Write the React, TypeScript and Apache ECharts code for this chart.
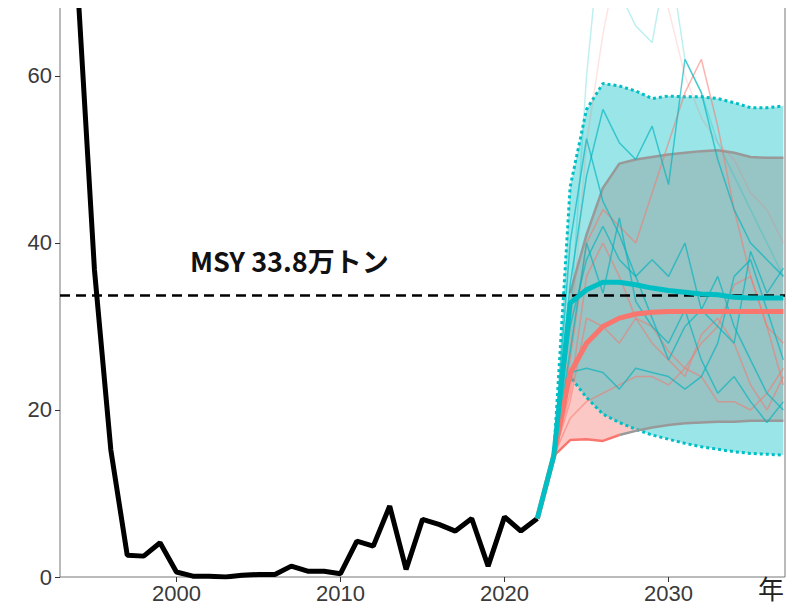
import { useEffect, useRef } from 'react';
import * as echarts from 'echarts';

const histYears = [1994, 1995, 1996, 1997, 1998, 1999, 2000, 2001, 2002, 2003, 2004, 2005, 2006, 2007, 2008, 2009, 2010, 2011, 2012, 2013, 2014, 2015, 2016, 2017, 2018, 2019, 2020, 2021, 2022];
const histValues = [70, 36.8, 15.2, 2.6, 2.5, 4.1, 0.6, 0.1, 0.1, 0.0, 0.2, 0.3, 0.3, 1.3, 0.7, 0.7, 0.4, 4.3, 3.7, 8.5, 0.9, 6.9, 6.3, 5.5, 7.0, 1.3, 7.2, 5.5, 7.0];

const projYears = [2022, 2023, 2024, 2025, 2026, 2027, 2028, 2029, 2030, 2031, 2032, 2033, 2034, 2035, 2036, 2037];
const tealMedian = [7.0, 14.5, 32.8, 34.4, 35.3, 35.3, 35.0, 34.6, 34.3, 34.1, 33.9, 33.8, 33.5, 33.4, 33.4, 33.4];
const redMedian = [7.0, 14.5, 24.4, 28.0, 30.0, 31.0, 31.5, 31.7, 31.8, 31.8, 31.8, 31.8, 31.8, 31.8, 31.8, 31.8];
const tealUpper = [7.0, 14.5, 46.7, 56.0, 59.1, 58.8, 58.2, 57.3, 57.6, 57.5, 57.5, 57.3, 56.8, 56.2, 56.2, 56.4];
const tealLower = [7.0, 14.5, 24.0, 21.5, 19.5, 18.5, 17.7, 17.0, 16.5, 16.0, 15.6, 15.3, 15.0, 14.8, 14.7, 14.6];
const redUpper = [7.0, 14.5, 34.0, 41.0, 46.6, 49.5, 50.0, 50.3, 50.6, 50.8, 51.0, 51.1, 50.8, 50.3, 50.2, 50.2];
const redLower = [7.0, 14.5, 16.4, 16.5, 16.3, 17.0, 17.5, 17.9, 18.2, 18.4, 18.5, 18.6, 18.6, 18.7, 18.7, 18.7];

const tealRuns = [
  [14.5, 40, 52.5, 45, 41, 36, 31, 26, 30, 32, 36, 30, 26, 22, 20],
  [14.5, 24.5, 25, 24.5, 22.5, 25, 24.5, 24, 22.5, 24, 28, 36, 38, 32, 26],
  [14.5, 27, 40, 34, 43, 33, 30, 28, 32, 26, 22, 24, 21, 18.5, 21],
  [14.5, 30, 38, 42, 38, 36, 38, 36, 40, 32, 30, 28, 39, 34, 37],
  [14.5, 35, 48, 56, 52, 50, 54, 47, 62, 58, 50, 44, 40, 38, 36],
];
const redRuns = [
  [14.5, 19, 21, 22, 23, 24, 24, 23, 25, 24, 21, 21, 20, 22, 25],
  [14.5, 21, 31, 30, 28, 31, 30, 27, 25, 28, 30, 35, 36, 30, 23],
  [14.5, 22, 36, 40, 36, 31, 28, 26, 24, 29, 31, 28, 23, 20, 24],
  [14.5, 26, 40, 44, 42, 40, 46, 52, 58, 62, 54, 44, 36, 30, 28],
];
const fadedRuns = [
  { color: 'rgba(0,191,196,0.25)', data: [14.5, 30, 60, 80, 70, 66, 64, 75, 62, 58, 52, 48, 44, 40, 36] },
  { color: 'rgba(248,118,109,0.2)', data: [14.5, 28, 52, 65, 75, 70, 72, 68, 60, 55, 52, 50, 46, 44, 40] },
];

const msy = 33.8;

export default function App() {
  const ref = useRef<HTMLDivElement>(null);
  useEffect(() => {
    if (!ref.current) return;
    const chart = echarts.init(ref.current, undefined, { renderer: 'svg' });
    const pts = (ys: number[], vals: number[]) => ys.map((y, i) => [y, vals[i]]);
    const band = (lower: number[], upper: number[], color: string, z: number) => ({
      type: 'custom',
      data: projYears.map((y, i) => [y, lower[i], upper[i]]),
      clip: true,
      z,
      renderItem: (params: any, api: any) => {
        if (params.dataIndex !== 0) return null;
        const top = projYears.map((y, i) => api.coord([y, upper[i]]));
        const bot = projYears.map((y, i) => api.coord([y, lower[i]])).reverse();
        return { type: 'polygon', shape: { points: [...top, ...bot] }, style: { fill: color } };
      },
    });
    const runYears = projYears.slice(1);
    const ticksX = [2000, 2010, 2020, 2030];
    const ticksY = [0, 20, 40, 60];
    chart.setOption({
      animation: false,
      grid: { left: 60, right: 13, top: 5, bottom: 35, show: true, borderColor: '#777', borderWidth: 1, backgroundColor: 'transparent' },
      xAxis: {
        type: 'value', min: 1992.9, max: 2037.1,
        splitLine: { show: false },
        axisLine: { show: false },
        axisTick: { show: true, customValues: ticksX, length: 5, lineStyle: { color: '#333' } },
        axisLabel: { customValues: ticksX, formatter: (v: number) => String(v), fontSize: 22, color: '#3a3a3a', fontFamily: 'Liberation Sans', margin: 5 },
      },
      yAxis: {
        type: 'value', min: 0, max: 68.5,
        splitLine: { show: false },
        axisLine: { show: false },
        axisTick: { show: true, customValues: ticksY, length: 5, lineStyle: { color: '#333' } },
        axisLabel: { customValues: ticksY, fontSize: 22, color: '#3a3a3a', fontFamily: 'Liberation Sans', margin: 8 },
      },
      graphic: [
        { type: 'text', left: 190, top: 247, style: { text: 'MSY 33.8万トン', fontSize: 27, fontWeight: 'bold', fill: '#111', fontFamily: 'Noto Sans CJK JP' } },
        { type: 'text', left: 758, top: 574, style: { text: '年', fontSize: 26, fill: '#222', fontFamily: 'Noto Sans CJK JP' } },
      ],
      series: [
        band(redLower, redUpper, 'rgba(248,118,109,0.4)', 1),
        band(tealLower, tealUpper, 'rgba(0,191,196,0.4)', 1),
        { type: 'line', data: pts(projYears.slice(1), tealUpper.slice(1)), symbol: 'none', lineStyle: { color: '#00BFC4', width: 3, type: [3, 3] }, z: 2 },
        { type: 'line', data: pts(projYears.slice(1), tealLower.slice(1)), symbol: 'none', lineStyle: { color: '#00BFC4', width: 3, type: [3, 3] }, z: 2 },
        { type: 'line', data: pts(projYears.slice(2), redUpper.slice(2)), symbol: 'none', lineStyle: { color: '#999', width: 2.5 }, z: 2 },
        { type: 'line', data: pts(projYears.slice(5), redLower.slice(5)), symbol: 'none', lineStyle: { color: '#999', width: 2.5 }, z: 2 },
        { type: 'line', data: pts(projYears.slice(1, 6), redLower.slice(1, 6)), symbol: 'none', lineStyle: { color: '#F8766D', width: 2.5 }, z: 2 },
        ...fadedRuns.map((r) => ({ type: 'line', data: pts(runYears, r.data), symbol: 'none', lineStyle: { color: r.color, width: 1.5 }, z: 3 })),
        ...redRuns.map((r) => ({ type: 'line', data: pts(runYears, r), symbol: 'none', lineStyle: { color: 'rgba(248,118,109,0.55)', width: 1.5 }, z: 3 })),
        ...tealRuns.map((r) => ({ type: 'line', data: pts(runYears, r), symbol: 'none', lineStyle: { color: 'rgba(0,180,190,0.65)', width: 1.5 }, z: 3 })),
        {
          type: 'line', data: pts(histYears, histValues), symbol: 'none', lineStyle: { color: '#000', width: 5 }, z: 5,
          markLine: {
            symbol: 'none', silent: true, label: { show: false },
            lineStyle: { color: '#000', type: [10, 6], width: 2.5 },
            data: [{ yAxis: msy }],
          },
        },
        { type: 'line', data: pts(projYears, redMedian), symbol: 'none', lineStyle: { color: '#F8766D', width: 5 }, z: 6 },
        { type: 'line', data: pts(projYears, tealMedian), symbol: 'none', lineStyle: { color: '#00BFC4', width: 5 }, z: 7 },
      ],
    });
    return () => chart.dispose();
  }, []);
  return <div ref={ref} style={{ width: 798, height: 612, margin: -8 }} />;
}
